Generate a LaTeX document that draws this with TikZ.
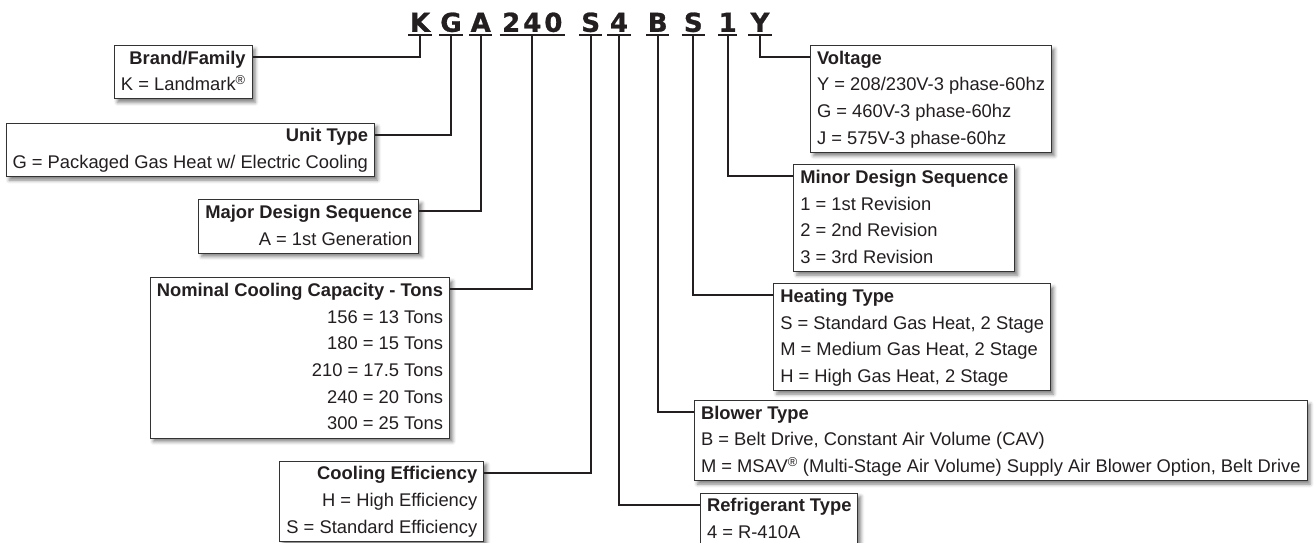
\documentclass[tikz,border=0pt]{standalone}
\usepackage{fontspec}
\setmainfont{Liberation Sans}
\newfontfamily\codefont{DejaVu Sans}[BoldFeatures={FakeBold=1}]
\usepackage{tikz}
\usetikzlibrary{shadows.blur}

\definecolor{inkdark}{HTML}{231F20}
\definecolor{boxline}{HTML}{333333}
\newcommand{\boxsize}{\fontsize{18.35}{26.7}\selectfont}

\begin{document}
\begin{tikzpicture}[x=1pt, y=-1pt, inkdark,
	codechar/.style={font=\codefont\bfseries\fontsize{26}{26}\selectfont, inner xsep=0pt, inner ysep=3pt, text depth=0pt, minimum width=23pt, anchor=south},
	uline/.style={line width=2.7pt},
	conn/.style={line width=2pt},
	infobox/.style={draw=boxline, line width=1pt, fill=white, inner xsep=6.5pt, inner ysep=0pt, font=\boxsize,
		blur shadow={shadow xshift=3pt, shadow yshift=-3.5pt, shadow blur radius=3.5pt, shadow opacity=50}},
	leftbox/.style={infobox, align=right, anchor=north east},
	rightbox/.style={infobox, align=left, anchor=north west}]
	\useasboundingbox (0,0) rectangle (1314,543);
	
	% === model number ===
	\node[codechar] (cK) at (420,35) {K};
	\node[codechar] (cG) at (451,35) {G};
	\node[codechar] (cA) at (480.7,35) {A};
	\node[codechar, minimum width=65pt] (c240) at (532.3,35) {2\hspace{3pt}4\hspace{3pt}0};
	\node[codechar] (cS) at (590.7,35) {S};
	\node[codechar] (c4) at (619,35) {4};
	\node[codechar] (cB) at (657.7,35) {B};
	\node[codechar] (cSb) at (693.3,35) {S};
	\node[codechar, minimum width=17pt] (c1) at (727.7,35) {1};
	\node[codechar] (cY) at (760,35) {Y};
	\foreach \c in {cK,cG,cA,c240,cS,c4,cB,cSb,c1,cY}
		\draw[uline] (\c.south west) -- (\c.south east);
	
	% === left boxes ===
	\node[leftbox] (brand) at (252.7,45) {\strut{\bfseries Brand/Family}\\ \strut K = Landmark\textsuperscript{®}};
	\node[leftbox] (unit) at (375,122.7) {\strut{\bfseries Unit Type}\\ \strut G = Packaged Gas Heat w/ Electric Cooling};
	\node[leftbox] (major) at (419.3,199.3) {\strut{\bfseries Major Design Sequence}\\ \strut A = 1st Generation};
	\node[leftbox] (nominal) at (450,277.3) {\strut{\bfseries Nominal Cooling Capacity - Tons}\\ 156 = 13 Tons\\ 180 = 15 Tons\\ 210 = 17.5 Tons\\ 240 = 20 Tons\\ \strut 300 = 25 Tons};
	\node[leftbox] (cooling) at (484.3,460.7) {\strut{\bfseries Cooling Efficiency}\\ H = High Efficiency\\ \strut S = Standard Efficiency};
	
	% === right boxes ===
	\node[rightbox] (voltage) at (810,45) {\strut{\bfseries Voltage}\\ Y = 208/230V-3 phase-60hz\\ G = 460V-3 phase-60hz\\ \strut J = 575V-3 phase-60hz};
	\node[rightbox] (minor) at (793.3,164.3) {\strut{\bfseries Minor Design Sequence}\\ 1 = 1st Revision\\ 2 = 2nd Revision\\ \strut 3 = 3rd Revision};
	\node[rightbox] (heating) at (773.3,283.3) {\strut{\bfseries Heating Type}\\ S = Standard Gas Heat, 2 Stage\\ M = Medium Gas Heat, 2 Stage\\ \strut H = High Gas Heat, 2 Stage};
	\node[rightbox] (blower) at (694,400) {\strut{\bfseries Blower Type}\\ B = Belt Drive, Constant Air Volume (CAV)\\ \strut M = MSAV\textsuperscript{®} (Multi-Stage Air Volume) Supply Air Blower Option, Belt Drive};
	\node[rightbox] (refrig) at (700,492.7) {\strut{\bfseries Refrigerant Type}\\ \strut 4 = R-410A};
	
	% === connectors ===
	\draw[conn] (cK.south) |- ([yshift=-12pt]brand.north east);
	\draw[conn] (cG.south) |- ([yshift=-12pt]unit.north east);
	\draw[conn] (cA.south) |- ([yshift=-12pt]major.north east);
	\draw[conn] (c240.south) |- ([yshift=-12pt]nominal.north east);
	\draw[conn] (cS.south) |- ([yshift=-12pt]cooling.north east);
	\draw[conn] (c4.south) |- ([yshift=-12pt]refrig.north west);
	\draw[conn] (cB.south) |- ([yshift=-12pt]blower.north west);
	\draw[conn] (cSb.south) |- ([yshift=-12pt]heating.north west);
	\draw[conn] (c1.south) |- ([yshift=-12pt]minor.north west);
	\draw[conn] (cY.south) |- ([yshift=-12pt]voltage.north west);
\end{tikzpicture}
\end{document}
